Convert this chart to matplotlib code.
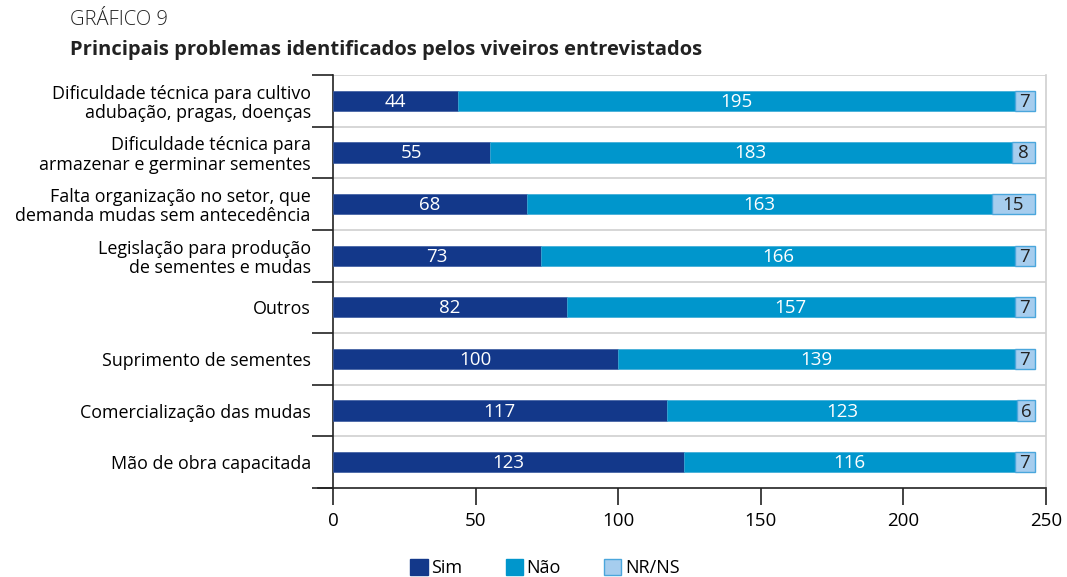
import matplotlib
matplotlib.use("Agg")
import matplotlib.pyplot as plt
from matplotlib.patches import Patch
import numpy as np

categories = [
    "Dificuldade técnica para cultivo\nadubação, pragas, doenças",
    "Dificuldade técnica para\narmazenar e germinar sementes",
    "Falta organização no setor, que\ndemanda mudas sem antecedência",
    "Legislação para produção\nde sementes e mudas",
    "Outros",
    "Suprimento de sementes",
    "Comercialização das mudas",
    "Mão de obra capacitada",
]
sim = [44, 55, 68, 73, 82, 100, 117, 123]
nao = [195, 183, 163, 166, 157, 139, 123, 116]
nrns = [7, 8, 15, 7, 7, 7, 6, 7]
series_names = ["Sim", "Não", "NR/NS"]
xticks = [0, 50, 100, 150, 200, 250]

plt.rcParams['font.family'] = ['Open Sans', 'DejaVu Sans']

c_sim = "#13388a"
c_nao = "#0096cc"
c_nr = "#a6cdee"
c_nr_edge = "#4aa6dc"

fig = plt.figure(figsize=(10.67, 5.77), dpi=100)
ax = fig.add_axes([333/1067, 1-488/577, (1046-333)/1067, (488-75)/577])

n = len(categories)
y = np.arange(n)
h = 0.39
sim_a = np.array(sim); nao_a = np.array(nao); nr_a = np.array(nrns)

ax.barh(y, sim_a, height=h, color=c_sim, edgecolor="#3a5aa0", linewidth=0.5, zorder=3)
ax.barh(y, nao_a, left=sim_a, height=h, color=c_nao, edgecolor="#3aaad6", linewidth=0.5, zorder=3)
ax.barh(y, nr_a, left=sim_a+nao_a, height=h, color=c_nr, edgecolor=c_nr_edge, linewidth=1.0, zorder=3)

fs = 13.5
for i in range(n):
    ax.text(sim_a[i]/2, y[i] + 0.02, str(sim_a[i]), ha="center", va="center", color="white", fontsize=fs, zorder=4)
    ax.text(sim_a[i] + nao_a[i]/2, y[i] + 0.02, str(nao_a[i]), ha="center", va="center", color="white", fontsize=fs, zorder=4)
    ax.text(sim_a[i] + nao_a[i] + nr_a[i]/2, y[i] + 0.02, str(nr_a[i]), ha="center", va="center", color="#222222", fontsize=fs, zorder=4)

ax.set_xlim(0, 250)
ax.set_ylim(n - 0.5, -0.5)
ax.set_xticks(xticks)
ax.set_xticklabels([str(t) for t in xticks], fontsize=fs)

ax.set_yticks(y)
ax.set_yticklabels(categories, fontsize=12.9, linespacing=1.1)
ax.tick_params(axis="y", length=0, pad=16)
ax.set_yticks(np.arange(-0.5, n, 1.0), minor=True)
ax.tick_params(axis="y", which="minor", length=15, width=1.2, color="#222222", direction="out")
ax.tick_params(axis="x", length=12, width=1.2, color="#222222", direction="out", pad=5)

for b in np.arange(-0.5, n - 0.5, 1.0):
    ax.axhline(b, color="#d0d0d0", linewidth=1.2, zorder=1)

ax.spines["top"].set_visible(False)
ax.spines["right"].set_color("#d0d0d0")
ax.spines["right"].set_linewidth(1.2)
ax.spines["left"].set_color("#222222")
ax.spines["left"].set_linewidth(1.2)
ax.spines["bottom"].set_color("#222222")
ax.spines["bottom"].set_linewidth(1.2)
ax.spines["bottom"].set_bounds(-5.3, 250)

fig.text(70/1067, 1-20/577, "GRÁFICO 9", fontsize=14.5, fontweight="light", ha="left", va="center", color="#222222")
fig.text(70/1067, 1-50/577, "Principais problemas identificados pelos viveiros entrevistados", fontsize=14.5,
         fontweight="bold", ha="left", va="center", color="#222222")

handles = [Patch(facecolor=c_sim, edgecolor=c_sim),
           Patch(facecolor=c_nao, edgecolor=c_nao),
           Patch(facecolor=c_nr, edgecolor=c_nr_edge)]
fig.legend(handles, series_names, loc="center", bbox_to_anchor=(545/1067, 1-568/577), ncol=3,
           frameon=False, fontsize=13, handlelength=0.95, handleheight=0.95, handletextpad=0.2,
           columnspacing=2.4)

fig.savefig("out.png", dpi=100)
